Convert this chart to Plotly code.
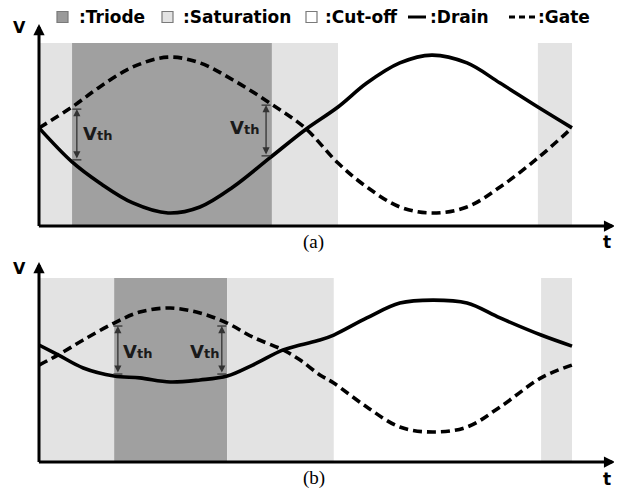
import plotly.graph_objects as go

# ---------------- data ----------------
# panel (a)
t_a = [0, 0.62, 1.14, 1.76, 2.42, 3.02, 3.64, 4.33, 4.99, 5.61, 6.15, 6.77, 7.37, 8.03, 8.65, 9.36, 10.0]
drain_a = [5.36, 3.50, 2.35, 1.26, 0.71, 1.04, 2.13, 3.72, 5.25, 6.50, 7.81, 8.91, 9.34, 8.91, 7.81, 6.50, 5.36]
gate_a = [5.36, 6.50, 7.60, 8.69, 9.23, 8.91, 7.98, 6.72, 5.36, 3.44, 2.13, 1.04, 0.71, 1.04, 2.13, 3.72, 5.36]
edges_a = [0, 0.62, 4.37, 5.61, 9.36, 10.0]
vth_a_t = [0.71, 4.26]
vth_a_lo = [3.61, 3.83]
vth_a_hi = [6.39, 6.61]
vth_a_lbl_t = [1.09, 3.86]
vth_a_lbl_v = [5.08, 5.36]

# panel (b)
t_b = [0, 0.36, 0.83, 1.41, 1.89, 2.46, 3.02, 3.53, 4.01, 4.58, 4.90, 5.27, 5.53, 6.15, 6.77, 7.39, 8.03, 8.65, 9.42, 10.0]
drain_b = [6.36, 5.82, 5.11, 4.67, 4.57, 4.35, 4.46, 4.67, 5.27, 6.09, 6.36, 6.63, 6.90, 7.83, 8.64, 8.80, 8.64, 7.83, 6.90, 6.30]
gate_b = [5.27, 5.82, 6.63, 7.55, 8.15, 8.37, 8.10, 7.55, 6.79, 6.09, 5.54, 4.73, 4.29, 2.99, 1.90, 1.63, 1.90, 2.99, 4.57, 5.27]
edges_b = [0, 1.41, 3.53, 5.53, 9.42, 10.0]
vth_b_t = [1.48, 3.43]
vth_b_lo = [4.78, 4.78]
vth_b_hi = [7.39, 7.39]
vth_b_lbl_t = [1.84, 3.11]
vth_b_lbl_v = [5.98, 5.98]

modes = ["Saturation", "Triode", "Saturation", "Cut-off", "Saturation"]
legend_labels = [":Triode", ":Saturation", ":Cut-off", ":Drain", ":Gate"]
panel_labels = ["(a)", "(b)"]

V_TOP = 10.0
COL = {"Triode": "#a0a0a0", "Saturation": "#e3e3e3", "Cut-off": "#ffffff"}

# page has an 8px body margin; figure sized to fill the rest of the window
OFF = 8
W, H = 622 - OFF, 489 - OFF
fig = go.Figure()
shapes = []
ann = []

SANS = "DejaVu Sans"


def panel(xr, yr, t, drain, gate, edges, vt, vlo, vhi, lt, lv, ytip, vlabel_v, plabel):
    for i, m in enumerate(modes):
        if m == "Cut-off":
            continue
        shapes.append(dict(type="rect", xref=xr, yref=yr, x0=edges[i], x1=edges[i + 1],
                           y0=0, y1=V_TOP, fillcolor=COL[m], line=dict(width=0), layer="below"))
    fig.add_trace(go.Scatter(x=t, y=drain, mode="lines", xaxis=xr, yaxis=yr,
                             line=dict(color="black", width=3.6, shape="spline", smoothing=1),
                             showlegend=False, hoverinfo="skip"))
    fig.add_trace(go.Scatter(x=t, y=gate, mode="lines", xaxis=xr, yaxis=yr,
                             line=dict(color="black", width=3.6, dash="9px,5px", shape="spline", smoothing=1),
                             showlegend=False, hoverinfo="skip"))
    for x, lo, hi, tx, tv in zip(vt, vlo, vhi, lt, lv):
        ann.append(dict(xref=xr, yref=yr, axref=xr, ayref=yr, x=x, y=hi, ax=x, ay=lo,
                        text="", showarrow=True, arrowhead=2, arrowside="end+start",
                        arrowsize=1.1, arrowwidth=1.3, arrowcolor="#333333", standoff=0, startstandoff=0))
        for yy in (lo, hi):
            shapes.append(dict(type="line", xref=xr, yref=yr, x0=x - 0.085, x1=x + 0.085,
                               y0=yy, y1=yy, line=dict(color="#333333", width=1.3)))
        ann.append(dict(xref=xr, yref=yr, x=tx, y=tv, showarrow=False,
                        text="<b>V</b><b><span style='font-size:13px'>th</span></b>",
                        font=dict(family=SANS, size=18, color="#1a1a1a")))
    ann.append(dict(xref=xr, yref=yr, axref=xr, ayref=yr, x=10.81, y=0, ax=-0.03, ay=0,
                    text="", showarrow=True, arrowhead=2, arrowsize=0.75, arrowwidth=3,
                    arrowcolor="black", standoff=0))
    ann.append(dict(xref=xr, yref=yr, axref=xr, ayref=yr, x=0, y=ytip, ax=0, ay=-0.08,
                    text="", showarrow=True, arrowhead=2, arrowsize=0.75, arrowwidth=3,
                    arrowcolor="black", standoff=0))
    ann.append(dict(xref=xr, yref=yr, x=-0.36, y=vlabel_v, text="<b>V</b>", showarrow=False,
                    font=dict(family=SANS, size=16, color="black")))
    ann.append(dict(xref=xr, yref=yr, x=10.66, y=-0.9, text="<b>t</b>", showarrow=False,
                    font=dict(family=SANS, size=17, color="black")))
    ann.append(dict(xref=xr, yref=yr, x=5.15, y=-0.88, text=plabel, showarrow=False,
                    font=dict(family="Liberation Serif", size=19, color="black")))


panel("x", "y", t_a, drain_a, gate_a, edges_a, vth_a_t, vth_a_lo, vth_a_hi,
      vth_a_lbl_t, vth_a_lbl_v, 11.04, 10.82, panel_labels[0])
panel("x2", "y2", t_b, drain_b, gate_b, edges_b, vth_b_t, vth_b_lo, vth_b_hi,
      vth_b_lbl_t, vth_b_lbl_v, 10.87, 10.54, panel_labels[1])


# ---------------- legend (paper coords, window pixels) ----------------
def px(x):
    return (x - OFF) / W


def py(y):
    return 1 - (y - OFF) / H


leg_y = 17
box_fill = ["#9a9a9a", "#e3e3e3", "#ffffff"]
box_x = [57, 162, 306]
text_x = [77, 181, 323, 428, 536]
for bx, fc in zip(box_x, box_fill):
    shapes.append(dict(type="rect", xref="paper", yref="paper", x0=px(bx), x1=px(bx + 11),
                       y0=py(leg_y + 5.5), y1=py(leg_y - 5.5), fillcolor=fc,
                       line=dict(color="#7a7a7a", width=1.2)))
shapes.append(dict(type="line", xref="paper", yref="paper", x0=px(408), x1=px(426),
                   y0=py(leg_y), y1=py(leg_y), line=dict(color="black", width=3)))
shapes.append(dict(type="line", xref="paper", yref="paper", x0=px(509), x1=px(536),
                   y0=py(leg_y), y1=py(leg_y), line=dict(color="black", width=3, dash="6px,4px")))
for tx, lab in zip(text_x, legend_labels):
    ann.append(dict(xref="paper", yref="paper", x=px(tx), y=py(leg_y), xanchor="left",
                    yanchor="middle", text="<b>" + lab + "</b>", showarrow=False,
                    font=dict(family=SANS, size=17, color="black")))

# axis ranges chosen so that the window pixel grid maps onto t / V units
x_range = [(OFF - 39) / 53.3, (622 - 39) / 53.3]
split = 244.5
dom_split = 1 - (split - OFF) / H
ax_common = dict(showgrid=False, zeroline=False, showticklabels=False, ticks="",
                 showline=False, fixedrange=True)
fig.update_layout(
    width=W, height=H, margin=dict(l=0, r=0, t=0, b=0),
    paper_bgcolor="white", plot_bgcolor="white",
    xaxis=dict(domain=[0, 1], range=x_range, anchor="y", **ax_common),
    yaxis=dict(domain=[dom_split, 1], range=[(226 - split) / 18.3, (226 - OFF) / 18.3], anchor="x", **ax_common),
    xaxis2=dict(domain=[0, 1], range=x_range, anchor="y2", **ax_common),
    yaxis2=dict(domain=[0, dom_split], range=[(462 - 489) / 18.4, (462 - split) / 18.4], anchor="x2", **ax_common),
    shapes=shapes, annotations=ann, showlegend=False,
)

fig.write_html("out.html")
